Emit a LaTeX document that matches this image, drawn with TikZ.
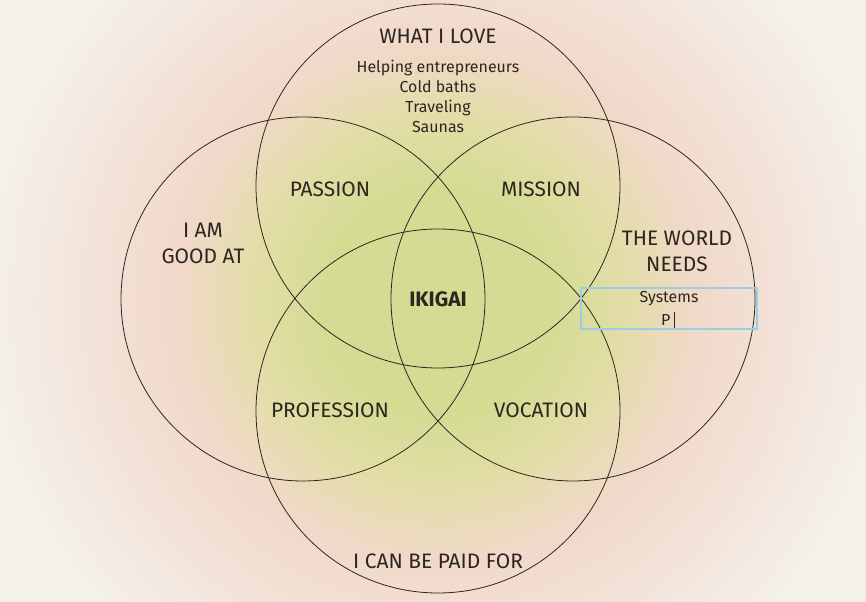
\documentclass[tikz,border=0pt]{standalone}
\usepackage{fontspec}
\setmainfont{Fira Sans}

\definecolor{ink}{HTML}{2C2520}
\definecolor{lime}{HTML}{D3DC92}
\definecolor{limeedge}{HTML}{E3DDA8}
\definecolor{peach}{HTML}{F1D9CA}
\definecolor{peachlight}{HTML}{F3E3D9}
\definecolor{paper}{HTML}{F4F0EA}
\definecolor{cursorblue}{HTML}{9CCDE6}

\pgfdeclareradialshading{ikigaibg}{\pgfpoint{0bp}{0bp}}{color(0bp)=(lime); color(5.5bp)=(lime); color(9.5bp)=(limeedge); color(13bp)=(peach); color(17.5bp)=(peachlight); color(22.5bp)=(paper); color(50bp)=(paper)}

\begin{document}
\begin{tikzpicture}[x=1bp, y=1bp,
  ring/.style={draw=ink, line width=0.8bp},
  title/.style={text=ink, align=center, font=\fontsize{21}{26}\selectfont},
  item/.style={text=ink, align=center, font=\fontsize{16}{20}\selectfont}]

\useasboundingbox (0,0) rectangle (866,602);

%Tausta
\begin{scope}
\clip (0,0) rectangle (866,602);
\shade[shading=ikigaibg] (-62,-200) rectangle (938,800);
\end{scope}

%Ympyrat
\coordinate (love) at (438,416);
\coordinate (good) at (303,303);
\coordinate (world) at (573,303);
\coordinate (paid) at (438,191);
\foreach \c in {love, good, world, paid}
	\draw[ring] (\c) circle (182);

%Otsikot
\node[title] (lovetitle) at (438,566) {WHAT I LOVE};
\node[item, anchor=north] (lovelist) at (438,545) {Helping entrepreneurs\\Cold baths\\Traveling\\Saunas};
\node[title] (goodtitle) at (203,359) {I AM\\GOOD AT};
\node[title] (worldtitle) at (677,351) {THE WORLD\\NEEDS};
\node[title] (paidtitle) at (438,41) {I CAN BE PAID FOR};

%Leikkaukset
\node[title] (passion) at (330,413) {PASSION};
\node[title] (mission) at (541,413) {MISSION};
\node[title] (profession) at (330,192) {PROFESSION};
\node[title] (vocation) at (541,192) {VOCATION};
\node[title, font=\fontsize{21}{26}\selectfont\bfseries] (ikigai) at (438,303) {IKIGAI};

%Muokattava kentta
\draw[cursorblue, line width=1.6bp] (581,273) rectangle (757,314);
\node[item] (systems) at (669,303) {Systems};
\node[item, anchor=east] (typed) at (674,282) {P};
\draw[ink, line width=1bp] (typed.east) ++(0.5,-8) -- ++(0,16);

\end{tikzpicture}
\end{document}
